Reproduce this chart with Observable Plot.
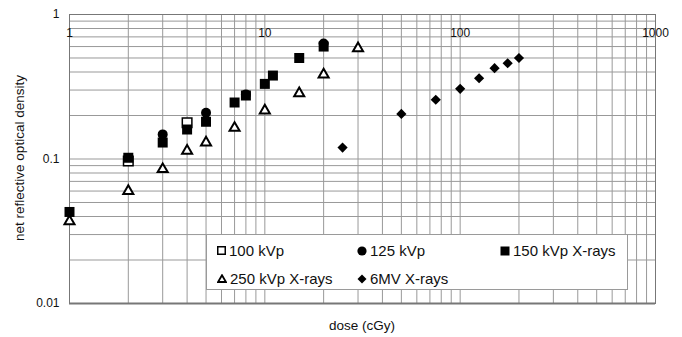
<!DOCTYPE html>
<html>
<head>
<meta charset="utf-8">
<script src="https://cdn.jsdelivr.net/npm/d3@7"></script>
<script src="https://cdn.jsdelivr.net/npm/@observablehq/plot@0.6"></script>
<style>
  html, body { margin: 0; padding: 0; background: white; }
  #wrap { position: relative; width: 682px; height: 337px; font-family: "Liberation Sans", Arial, sans-serif; }
  #legend { position: absolute; left: 206px; top: 234px; width: 422px; height: 56px; background: white; border: 1px solid #9a9a9a; box-sizing: border-box; }
  .item { position: absolute; display: flex; align-items: center; font-size: 15px; color: #111; white-space: nowrap; line-height: 1; }
  .item svg { margin-right: 3px; }
</style>
</head>
<body>
<div id="wrap"><div id="chart"></div><div id="legend"></div></div>
<script>
// ---- data ----
const dose100 = [2, 4];
const od100   = [0.097, 0.178];

const dose125 = [3, 5, 8, 20];
const od125   = [0.148, 0.209, 0.28, 0.63];

const dose150 = [1, 2, 3, 4, 5, 7, 8, 10, 11, 15, 20];
const od150   = [0.043, 0.102, 0.130, 0.160, 0.181, 0.246, 0.275, 0.331, 0.378, 0.50, 0.60];

const dose250 = [1, 2, 3, 4, 5, 7, 10, 15, 20, 30];
const od250   = [0.037, 0.060, 0.085, 0.114, 0.130, 0.164, 0.216, 0.285, 0.384, 0.584];

const dose6MV = [25, 50, 75, 100, 125, 150, 175, 200];
const od6MV   = [0.12, 0.205, 0.257, 0.306, 0.362, 0.425, 0.46, 0.50];

const xTickLabels = [1, 10, 100, 1000];
const yTickLabels = [0.01, 0.1, 1];
const seriesNames = ["100 kVp", "125 kVp", "150 kVp X-rays", "250 kVp X-rays", "6MV X-rays"];

const toRows = (xs, ys) => xs.map((x, i) => ({dose: x, od: ys[i]}));

const xDomain = [1, 1000];
const yDomain = [0.01, 1];
const xGrid = d3.scaleLog().domain(xDomain).ticks();
const yGrid = d3.scaleLog().domain(yDomain).ticks();

const plot = Plot.plot({
  width: 682,
  height: 337,
  marginLeft: 69,
  marginRight: 27,
  marginTop: 14,
  marginBottom: 34,
  style: {fontFamily: "'Liberation Sans', Arial, sans-serif", fontSize: "12px", color: "#111", background: "white"},
  x: {type: "log", domain: xDomain},
  y: {type: "log", domain: yDomain},
  marks: [
    Plot.gridX(xGrid, {stroke: "#999", strokeOpacity: 1}),
    Plot.gridY(yGrid, {stroke: "#999", strokeOpacity: 1}),
    Plot.frame({stroke: "#777"}),
    Plot.ruleY([yDomain[0]], {stroke: "#777", strokeWidth: 2}),
    Plot.axisY(yTickLabels, {tickSize: 0, tickPadding: 10, tickFormat: d => String(d), label: null}),
    Plot.axisX(xTickLabels, {anchor: "top", tickSize: 0, tickPadding: 0, lineAnchor: "middle", dy: 19, tickFormat: d => String(d), label: null}),
    Plot.dot(toRows(dose100, od100), {x: "dose", y: "od", symbol: "square", r: 5.4, fill: "white", stroke: "black", strokeWidth: 1.5}),
    Plot.dot(toRows(dose125, od125), {x: "dose", y: "od", symbol: "circle", r: 5, fill: "black", stroke: "none"}),
    Plot.dot(toRows(dose150, od150), {x: "dose", y: "od", symbol: "square", r: 5.64, fill: "black", stroke: "none"}),
    Plot.dot(toRows(dose250, od250), {x: "dose", y: "od", symbol: "triangle2", r: 4.8, fill: "white", stroke: "black", strokeWidth: 2}),
    Plot.dot(toRows(dose6MV, od6MV), {x: "dose", y: "od", symbol: "diamond2", r: 4.6, fill: "black", stroke: "none"})
  ]
});

const svg = d3.select(plot);
svg.append("text")
  .attr("transform", "translate(20,158) rotate(-90)")
  .attr("text-anchor", "middle").attr("dominant-baseline", "middle")
  .attr("font-size", 13.5).attr("fill", "#111")
  .text("net reflective optical density");
svg.append("text")
  .attr("x", 362).attr("y", 326)
  .attr("text-anchor", "middle").attr("dominant-baseline", "middle")
  .attr("font-size", 13.5).attr("fill", "#111")
  .text("dose (cGy)");

document.getElementById("chart").appendChild(plot);

// ---- legend ----
const icons = [
  '<svg width="9" height="9"><rect x="0.75" y="0.75" width="7.5" height="7.5" fill="white" stroke="black" stroke-width="1.5"/></svg>',
  '<svg width="10" height="10"><circle cx="5" cy="5" r="4.6" fill="black"/></svg>',
  '<svg width="10" height="10"><rect x="0.5" y="0.5" width="9" height="9" fill="black"/></svg>',
  '<svg width="10" height="9"><path d="M5,1.2L9,8L1,8Z" fill="white" stroke="black" stroke-width="1.8"/></svg>',
  '<svg width="10" height="10"><path d="M5,0.5L9.5,5L5,9.5L0.5,5Z" fill="black"/></svg>'
];
const pos = [[10, 8], [150, 8], [293, 8], [10, 36], [150, 36]];
const legend = document.getElementById("legend");
seriesNames.forEach((name, i) => {
  const d = document.createElement("div");
  d.className = "item";
  d.style.left = pos[i][0] + "px";
  d.style.top = pos[i][1] + "px";
  d.innerHTML = icons[i] + "<span>" + name + "</span>";
  legend.appendChild(d);
});
</script>
</body>
</html>
